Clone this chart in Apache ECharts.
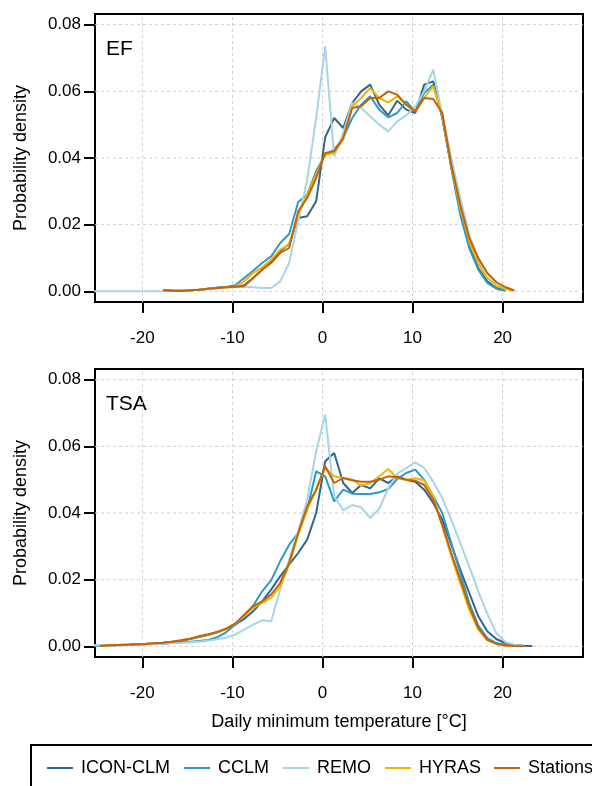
<!DOCTYPE html>
<html>
<head>
<meta charset="utf-8">
<script src="https://cdn.jsdelivr.net/npm/echarts@6/dist/echarts.min.js"></script>
<style>
html,body{margin:0;padding:0;background:#fff;}
#chart{width:592px;height:786px;}
</style>
</head>
<body>
<div id="chart"></div>
<script>
// Temperature grid (°C)
const temps = [-25.7,-24.7,-23.7,-22.7,-21.7,-20.7,-19.7,-18.7,-17.7,-16.7,-15.7,-14.7,-13.7,-12.7,-11.7,-10.7,-9.7,-8.7,-7.7,-6.7,-5.7,-4.7,-3.7,-2.7,-1.7,-0.7,0.3,1.3,2.3,3.3,4.3,5.3,6.3,7.3,8.3,9.3,10.3,11.3,12.3,13.3,14.3,15.3,16.3,17.3,18.3,19.3,20.3,21.3,22.3,23.3];

const seriesNames = ['ICON-CLM','CCLM','REMO','HYRAS','Stations'];
const seriesColors = ['#2f6690','#2b9bcb','#a7d5e6','#f5b400','#c2630c'];
const panelLabels = ['EF','TSA'];
const xTicks = [-20,-10,0,10,20];
const yTicks = [0,0.02,0.04,0.06,0.08];

// EF panel
const efIcon = [null,null,null,null,null,null,null,null,0.0003,0.0002,0.0002,0.0003,0.0005,0.0008,0.0011,0.0013,0.0013,0.0018,0.0040,0.0065,0.0090,0.0120,0.0142,0.0220,0.0225,0.0270,0.0462,0.0520,0.0490,0.0565,0.0600,0.0620,0.0560,0.0528,0.0572,0.0545,0.0535,0.0620,0.0630,0.0520,0.0375,0.0240,0.0135,0.0070,0.0030,0.0010,0.0003,null,null,null];
const efCclm = [null,null,null,null,null,null,null,null,0.0002,0.0002,0.0002,0.0003,0.0005,0.0008,0.0011,0.0013,0.0018,0.0040,0.0062,0.0085,0.0105,0.0145,0.0172,0.0268,0.0290,0.0360,0.0410,0.0425,0.0460,0.0520,0.0560,0.0585,0.0545,0.0522,0.0535,0.0570,0.0540,0.0595,0.0620,0.0525,0.0370,0.0230,0.0130,0.0065,0.0025,0.0008,0.0002,null,null,null];
const efRemo = [0,0,0,0,0,0,0,0,0,0.0001,0.0002,0.0003,0.0005,0.0007,0.0009,0.0011,0.0014,0.0014,0.0012,0.0010,0.0010,0.0030,0.0085,0.0210,0.0335,0.0520,0.0735,0.0405,0.0475,0.0565,0.0550,0.0525,0.0500,0.0480,0.0510,0.0528,0.0555,0.0600,0.0665,0.0530,0.0400,0.0280,0.0170,0.0095,0.0055,0.0025,0.0010,0.0003,null,null];
const efHyras = [null,null,null,null,null,null,null,null,0.0002,0.0002,0.0002,0.0003,0.0005,0.0008,0.0010,0.0012,0.0013,0.0030,0.0055,0.0072,0.0095,0.0125,0.0140,0.0230,0.0290,0.0350,0.0410,0.0415,0.0455,0.0555,0.0580,0.0610,0.0580,0.0566,0.0585,0.0560,0.0540,0.0580,0.0615,0.0530,0.0375,0.0250,0.0150,0.0085,0.0040,0.0018,0.0007,0.0002,null,null];
const efStations = [null,null,null,null,null,null,null,null,0.0003,0.0002,0.0001,0.0003,0.0005,0.0008,0.0010,0.0012,0.0014,0.0015,0.0040,0.0065,0.0085,0.0115,0.0130,0.0240,0.0280,0.0340,0.0415,0.0420,0.0460,0.0550,0.0555,0.0580,0.0580,0.0600,0.0590,0.0560,0.0540,0.0580,0.0577,0.0535,0.0380,0.0260,0.0160,0.0100,0.0055,0.0028,0.0013,0.0003,null,null];

// TSA panel
const tsaIcon = [0.0001,0.0002,0.0003,0.0004,0.0005,0.0006,0.0007,0.0009,0.0011,0.0014,0.0017,0.0022,0.0028,0.0034,0.0042,0.0052,0.0065,0.0082,0.0105,0.0135,0.0170,0.0210,0.0245,0.0280,0.0320,0.0400,0.0555,0.0580,0.0490,0.0460,0.0484,0.0474,0.0504,0.0490,0.0510,0.0500,0.0494,0.0470,0.0430,0.0380,0.0305,0.0230,0.0160,0.0090,0.0045,0.0022,0.0010,0.0004,0.0002,0.0001];
const tsaCclm = [0.0002,0.0002,0.0003,0.0003,0.0004,0.0005,0.0006,0.0007,0.0008,0.0010,0.0012,0.0014,0.0016,0.0019,0.0027,0.0042,0.0065,0.0090,0.0122,0.0165,0.0198,0.0255,0.0305,0.0340,0.0410,0.0525,0.0510,0.0435,0.0470,0.0458,0.0457,0.0457,0.0462,0.0472,0.0502,0.0520,0.0530,0.0500,0.0450,0.0400,0.0310,0.0220,0.0130,0.0062,0.0025,0.0010,0.0004,0.0001,null,null];
const tsaRemo = [0.0003,0.0003,0.0003,0.0004,0.0004,0.0005,0.0006,0.0007,0.0008,0.0009,0.0010,0.0012,0.0014,0.0017,0.0021,0.0026,0.0035,0.0050,0.0065,0.0078,0.0075,0.0170,0.0260,0.0345,0.0440,0.0585,0.0695,0.0450,0.0408,0.0424,0.0417,0.0385,0.0412,0.0474,0.0518,0.0535,0.0552,0.0535,0.0494,0.0445,0.0380,0.0310,0.0240,0.0165,0.0098,0.0040,0.0013,0.0004,0.0001,null];
const tsaHyras = [null,0.0001,0.0003,0.0004,0.0005,0.0006,0.0007,0.0009,0.0011,0.0014,0.0018,0.0023,0.0029,0.0035,0.0042,0.0052,0.0068,0.0092,0.0115,0.0130,0.0145,0.0180,0.0245,0.0335,0.0410,0.0470,0.0535,0.0510,0.0505,0.0500,0.0482,0.0490,0.0510,0.0532,0.0504,0.0500,0.0504,0.0498,0.0450,0.0360,0.0270,0.0190,0.0110,0.0050,0.0018,0.0007,0.0002,0.0000,null,null];
const tsaStations = [null,0.0001,0.0003,0.0004,0.0005,0.0006,0.0007,0.0009,0.0011,0.0014,0.0018,0.0023,0.0030,0.0036,0.0043,0.0053,0.0068,0.0095,0.0120,0.0135,0.0155,0.0190,0.0250,0.0340,0.0420,0.0470,0.0540,0.0490,0.0505,0.0498,0.0494,0.0494,0.0500,0.0510,0.0507,0.0500,0.0497,0.0484,0.0440,0.0365,0.0280,0.0200,0.0120,0.0055,0.0020,0.0008,0.0003,0.0001,0.0000,null];

const panels = [
  [efIcon, efCclm, efRemo, efHyras, efStations],
  [tsaIcon, tsaCclm, tsaRemo, tsaHyras, tsaStations]
];

const FONT = 'Liberation Sans';
const X_MIN = -25.26, X_MAX = 28.93, Y_MIN = -0.0032, Y_MAX = 0.0832;
const gridTops = [14, 369];

const chart = echarts.init(document.getElementById('chart'), null, {renderer: 'canvas'});

const grids = gridTops.map(t => ({
  left: 95, top: t, width: 488, height: 288,
  show: true, borderColor: '#000', borderWidth: 2, backgroundColor: 'transparent'
}));

const xAxes = gridTops.map((t, gi) => ({
  type: 'value', gridIndex: gi, min: X_MIN, max: X_MAX,
  axisLine: {show: false, onZero: false},
  axisTick: {show: true, inside: false, length: 11, customValues: xTicks, lineStyle: {color: '#000', width: 2}},
  axisLabel: {customValues: xTicks, fontSize: 17, color: '#000', fontFamily: FONT, margin: 28},
  splitLine: {show: false},
  name: gi === 1 ? 'Daily minimum temperature [°C]' : '',
  nameLocation: 'middle', nameGap: 56,
  nameTextStyle: {fontSize: 18, color: '#000', fontFamily: FONT}
}));

const yAxes = gridTops.map((t, gi) => ({
  type: 'value', gridIndex: gi, min: Y_MIN, max: Y_MAX,
  axisLine: {show: false, onZero: false},
  axisTick: {show: true, inside: false, length: 11, customValues: yTicks, lineStyle: {color: '#000', width: 2}},
  axisLabel: {customValues: yTicks, fontSize: 17, color: '#000', fontFamily: FONT, margin: 14,
    formatter: v => Number(v).toFixed(2)},
  splitLine: {show: false},
  name: 'Probability density', nameLocation: 'middle', nameRotate: 90, nameGap: 65,
  nameTextStyle: {fontSize: 18, color: '#000', fontFamily: FONT}
}));

const series = [];
gridTops.forEach((t, gi) => {
  // dashed reference grid lines, drawn through the axes' own scales
  const gl = [];
  xTicks.forEach(v => { gl.push([v, Y_MIN], [v, Y_MAX], [v, '-']); });
  yTicks.forEach(v => { gl.push([X_MIN, v], [X_MAX, v], [X_MAX, '-']); });
  series.push({
    type: 'line', xAxisIndex: gi, yAxisIndex: gi, data: gl, symbol: 'none',
    connectNulls: false, silent: true, z: 1, clip: false,
    lineStyle: {color: '#cfcfcf', width: 1, type: [3, 3]}, legendHoverLink: false
  });
  panels[gi].forEach((arr, si) => {
    const data = [];
    temps.forEach((tv, i) => { if (arr[i] !== null) data.push([tv, arr[i]]); });
    series.push({
      name: seriesNames[si], type: 'line', xAxisIndex: gi, yAxisIndex: gi,
      data: data, symbol: 'none', showSymbol: false, z: 2 + si, clip: true,
      itemStyle: {color: seriesColors[si]},
      lineStyle: {color: seriesColors[si], width: 2}
    });
  });
});

const graphic = [
  {type: 'rect', shape: {x: 31, y: 745, width: 620, height: 80}, style: {fill: 'none', stroke: '#000', lineWidth: 2}, silent: true},
  {type: 'text', x: 106, y: 49, style: {text: panelLabels[0], font: '21px "Liberation Sans"', fill: '#000', verticalAlign: 'middle'}},
  {type: 'text', x: 106, y: 404, style: {text: panelLabels[1], font: '21px "Liberation Sans"', fill: '#000', verticalAlign: 'middle'}}
];

const legendCommon = {
  padding: 0, itemWidth: 26, itemHeight: 2, itemGap: 14, top: 759,
  textStyle: {fontSize: 18, color: '#000', fontFamily: FONT, padding: [0, 0, 0, 3]},
  selectedMode: false
};

chart.setOption({
  animation: false,
  backgroundColor: '#fff',
  grid: grids,
  xAxis: xAxes,
  yAxis: yAxes,
  legend: [
    Object.assign({}, legendCommon, {
      left: 47,
      data: seriesNames.slice(0, 4).map(n => ({name: n, icon: 'rect'}))
    }),
    Object.assign({}, legendCommon, {
      left: 494,
      data: seriesNames.slice(4).map(n => ({name: n, icon: 'rect'}))
    })
  ],
  graphic: graphic,
  series: series
});
</script>
</body>
</html>
